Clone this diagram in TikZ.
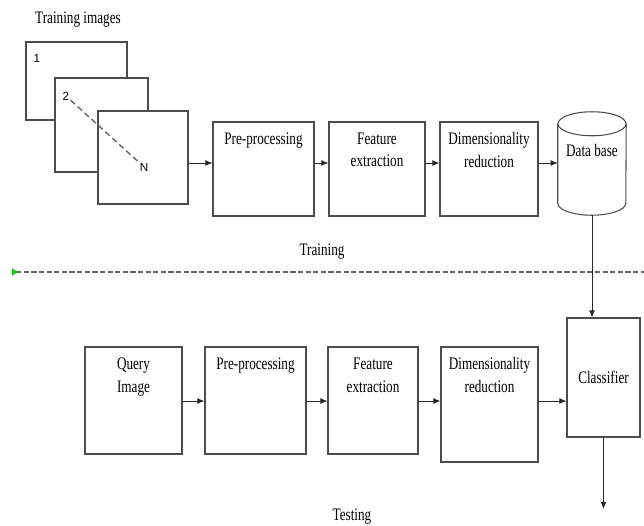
\documentclass[tikz,border=0pt]{standalone}
\usepackage{fontspec}
\setmainfont{Liberation Serif}
\newfontfamily\boxfont[FakeStretch=0.75]{Liberation Serif}
\newfontfamily\numfont{Liberation Sans}
\usetikzlibrary{arrows.meta}

\begin{document}
\begin{tikzpicture}[x=0.03cm,y=-0.03cm,
  >={Latex[length=6pt,width=5pt]},
  box/.style={draw=black!70, line width=0.9pt, rectangle, fill=white, inner sep=0pt},
  txt/.style={font=\boxfont\fontsize{15}{19.5}\selectfont, align=center},
  toplbl/.style={txt, anchor=north, yshift=-6pt},
  num/.style={font=\numfont\fontsize{10}{12}\selectfont, inner sep=1pt},
  flow/.style={->, draw=black!85, line width=0.8pt},
  cyl/.style={draw=black!70, line width=0.9pt},
  divider/.style={draw=black!60, line width=1.2pt, dash pattern=on 4.5pt off 2pt}]
\useasboundingbox (0,0) rectangle (644,525);

% training stack
\node[txt] (ti) at (78,20) {Training images};
\node[box, minimum width=3.03cm, minimum height=2.34cm] (img1) at (76.5,81) {};
\node[box, minimum width=2.79cm, minimum height=2.82cm] (img2) at (101.5,125) {};
\node[box, minimum width=2.7cm, minimum height=2.79cm] (img3) at (143,157.5) {};
\node[num] (n1) at (37,58) {1};
\node[num] (n2) at (66,96) {2};
\node[num] (nN) at (144,167) {N};
\draw[black!60, line width=1.2pt, dash pattern=on 5pt off 3pt] (n2) -- (nN);

\node[box, minimum width=3.03cm, minimum height=2.82cm, label={[toplbl]north:Pre-processing}] (pre1) at (263.5,169) {};
\node[box, minimum width=2.88cm, minimum height=2.82cm, label={[toplbl]north:Feature\\extraction}] (feat1) at (377,169) {};
\node[box, minimum width=2.94cm, minimum height=2.82cm, label={[toplbl]north:Dimensionality\\reduction}] (dim1) at (489,169) {};
\node[inner sep=0pt, minimum width=2.04cm, minimum height=3.09cm,
  label={[toplbl, yshift=-18pt]north:Data base}] (db) at (592,163.5) {};
\draw[cyl] ([yshift=-0.36cm]db.north west) -- ([yshift=0.36cm]db.south west)
  arc[start angle=180, end angle=360, x radius=1.02cm, y radius=0.36cm]
  -- ([yshift=-0.36cm]db.north east);
\draw[cyl] ([yshift=-0.36cm]db.north) ellipse [x radius=1.02cm, y radius=0.36cm];

\draw[flow] (img3.east |- 0,163) -- (pre1.west |- 0,163);
\draw[flow] (pre1.east |- 0,163) -- (feat1.west |- 0,163);
\draw[flow] (feat1.east |- 0,163) -- (dim1.west |- 0,163);
\draw[flow] (dim1.east |- 0,163) -- (db.west |- 0,163);

% divider
\node[txt] (tr) at (322,252) {Training};
\coordinate (dl) at (12,272);
\coordinate (dr) at (644,272);
\draw[divider, {Triangle[reversed, length=5pt, width=6pt, color=green!80!black]}-] (dl) -- (dr);

% testing row
\node[box, minimum width=2.91cm, minimum height=3.21cm, label={[toplbl]north:Query\\Image}] (qi) at (133.5,400.5) {};
\node[box, minimum width=3.03cm, minimum height=3.21cm, label={[toplbl]north:Pre-processing}] (pre2) at (255.5,400.5) {};
\node[box, minimum width=2.7cm, minimum height=3.21cm, label={[toplbl]north:Feature\\extraction}] (feat2) at (373,400.5) {};
\node[box, minimum width=2.91cm, minimum height=3.45cm, label={[toplbl]north:Dimensionality\\reduction}] (dim2) at (489.5,404.5) {};
\node[box, txt, minimum width=2.19cm, minimum height=3.57cm] (cls) at (603.5,377.5) {Classifier};
\coordinate (out) at (603.5,509);

\draw[flow] (qi.east |- 0,401) -- (pre2.west |- 0,401);
\draw[flow] (pre2.east |- 0,401) -- (feat2.west |- 0,401);
\draw[flow] (feat2.east |- 0,401) -- (dim2.west |- 0,401);
\draw[flow] (dim2.east |- 0,401) -- (cls.west |- 0,401);
\draw[flow] (db.south) -- (db.south |- cls.north);
\draw[flow] (cls) -- (out);
\node[txt] (te) at (352,517) {Testing};
\end{tikzpicture}
\end{document}
